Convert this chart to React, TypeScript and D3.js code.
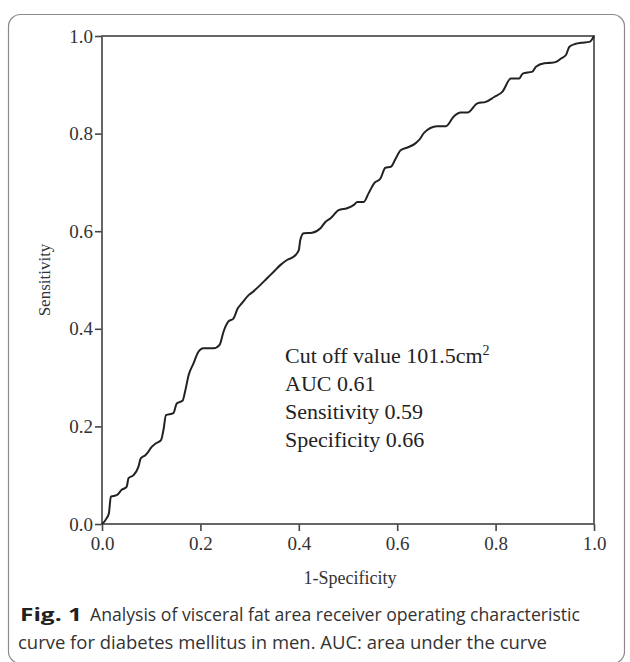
import React, { useEffect, useRef } from 'react';
import * as d3 from 'd3';

// ROC curve points: [1-specificity, sensitivity]
const fpr = [0, 0.0096, 0.014, 0.018, 0.03, 0.04, 0.05, 0.054, 0.064, 0.074, 0.079, 0.088, 0.094, 0.101, 0.109, 0.12, 0.125, 0.13, 0.145, 0.152, 0.164, 0.169, 0.176, 0.186, 0.196, 0.206, 0.227, 0.239, 0.247, 0.257, 0.267, 0.276, 0.284, 0.298, 0.307, 0.322, 0.335, 0.349, 0.363, 0.376, 0.39, 0.4, 0.403, 0.41, 0.427, 0.444, 0.454, 0.464, 0.481, 0.498, 0.512, 0.519, 0.532, 0.542, 0.553, 0.566, 0.576, 0.587, 0.597, 0.607, 0.622, 0.637, 0.647, 0.654, 0.681, 0.699, 0.715, 0.729, 0.743, 0.763, 0.78, 0.797, 0.814, 0.831, 0.848, 0.855, 0.875, 0.882, 0.899, 0.912, 0.923, 0.933, 0.943, 0.95, 0.963, 0.974, 0.991, 1];
const tpr = [0, 0.012, 0.022, 0.056, 0.059, 0.07, 0.076, 0.094, 0.1, 0.117, 0.135, 0.141, 0.148, 0.158, 0.165, 0.172, 0.193, 0.223, 0.227, 0.247, 0.253, 0.272, 0.305, 0.329, 0.353, 0.36, 0.36, 0.367, 0.394, 0.415, 0.421, 0.442, 0.452, 0.469, 0.476, 0.49, 0.503, 0.517, 0.531, 0.541, 0.548, 0.561, 0.582, 0.596, 0.597, 0.606, 0.619, 0.626, 0.643, 0.647, 0.654, 0.66, 0.66, 0.678, 0.698, 0.708, 0.73, 0.732, 0.749, 0.766, 0.772, 0.78, 0.79, 0.801, 0.815, 0.815, 0.835, 0.843, 0.843, 0.862, 0.865, 0.875, 0.886, 0.913, 0.913, 0.923, 0.927, 0.937, 0.944, 0.945, 0.947, 0.954, 0.961, 0.978, 0.984, 0.986, 0.988, 1];

const tickValues = [0, 0.2, 0.4, 0.6, 0.8, 1.0];
const statLines = ['Cut off value 101.5cm', 'AUC 0.61', 'Sensitivity 0.59', 'Specificity 0.66'];
const captionBold = 'Fig. 1';
const captionLine1 = 'Analysis of visceral fat area receiver operating characteristic';
const captionLine2 = 'curve for diabetes mellitus in men. AUC: area under the curve';

const W = 630;
const H = 662;

export default function App() {
    const svgRef = useRef<SVGSVGElement>(null);

    useEffect(() => {
        const svg = d3.select(svgRef.current);
        svg.selectAll('*').remove();

        const serif = '"Liberation Serif", "Times New Roman", serif';
        const sans = '"Open Sans", "Noto Sans", sans-serif';

        // outer rounded frame of the figure (bottom edge sits at the image border)
        svg.append('rect')
            .attr('x', 8.5).attr('y', 14.5)
            .attr('width', 616).attr('height', 649)
            .attr('rx', 12)
            .attr('fill', 'none')
            .attr('stroke', '#8a8a8a')
            .attr('stroke-width', 1.2);

        const x = d3.scaleLinear().domain([0, 1]).range([102, 594]);
        const y = d3.scaleLinear().domain([0, 1]).range([524, 36]);

        const gx = svg.append('g')
            .attr('transform', `translate(0,${y(0)})`)
            .call(d3.axisBottom(x).tickValues(tickValues).tickFormat(d3.format('.1f')).tickSize(7).tickPadding(6));
        const gy = svg.append('g')
            .attr('transform', `translate(${x(0)},0)`)
            .call(d3.axisLeft(y).tickValues(tickValues).tickFormat(d3.format('.1f')).tickSize(7).tickPadding(2));

        [gx, gy].forEach(g => {
            g.select('.domain').remove();
            g.selectAll('line').attr('stroke', '#444').attr('stroke-width', 1.6);
            g.selectAll('text')
                .attr('fill', '#333')
                .style('font-family', serif)
                .style('font-size', '19px');
        });

        // plot box
        svg.append('rect')
            .attr('x', x(0)).attr('y', y(1))
            .attr('width', x(1) - x(0)).attr('height', y(0) - y(1))
            .attr('fill', 'none')
            .attr('stroke', '#555')
            .attr('stroke-width', 1.8);

        const pts: [number, number][] = fpr.map((f, i) => [f, tpr[i]]);
        const line = d3.line<[number, number]>()
            .x(d => x(d[0]))
            .y(d => y(d[1]))
            .curve(d3.curveMonotoneX);

        svg.append('path')
            .datum(pts)
            .attr('d', line)
            .attr('fill', 'none')
            .attr('stroke', '#222')
            .attr('stroke-width', 2)
            .attr('stroke-linejoin', 'round');

        // statistics block
        const stats = svg.append('g')
            .style('font-family', serif)
            .style('font-size', '22px')
            .attr('fill', '#222');
        statLines.forEach((s, i) => {
            const t = stats.append('text')
                .attr('x', 285)
                .attr('y', 363 + i * 28)
                .text(s);
            if (i === 0) {
                t.append('tspan')
                    .attr('dy', -8)
                    .style('font-size', '14px')
                    .text('2');
            }
        });

        // axis titles
        svg.append('text')
            .attr('x', x(0.5) + 2)
            .attr('y', 584)
            .attr('text-anchor', 'middle')
            .attr('fill', '#333')
            .style('font-family', serif)
            .style('font-size', '18px')
            .text('1-Specificity');

        svg.append('text')
            .attr('transform', 'translate(50,280) rotate(-90)')
            .attr('text-anchor', 'middle')
            .attr('fill', '#333')
            .style('font-family', serif)
            .style('font-size', '17px')
            .text('Sensitivity');

        // caption
        svg.append('text')
            .attr('x', 20).attr('y', 621)
            .attr('fill', '#222')
            .style('font-family', sans)
            .style('font-size', '18px')
            .style('font-weight', 'bold')
            .attr('textLength', 62)
            .attr('lengthAdjust', 'spacingAndGlyphs')
            .text(captionBold);
        svg.append('text')
            .attr('x', 90).attr('y', 621)
            .attr('fill', '#333')
            .style('font-family', sans)
            .style('font-size', '18px')
            .attr('textLength', 490)
            .attr('lengthAdjust', 'spacingAndGlyphs')
            .text(captionLine1);
        svg.append('text')
            .attr('x', 18).attr('y', 649)
            .attr('fill', '#333')
            .style('font-family', sans)
            .style('font-size', '18px')
            .attr('textLength', 529)
            .attr('lengthAdjust', 'spacingAndGlyphs')
            .text(captionLine2);
    }, []);

    return (
        <svg ref={svgRef} width={W} height={H}
            style={{ position: 'absolute', left: 0, top: 0, background: '#fff' }} />
    );
}
